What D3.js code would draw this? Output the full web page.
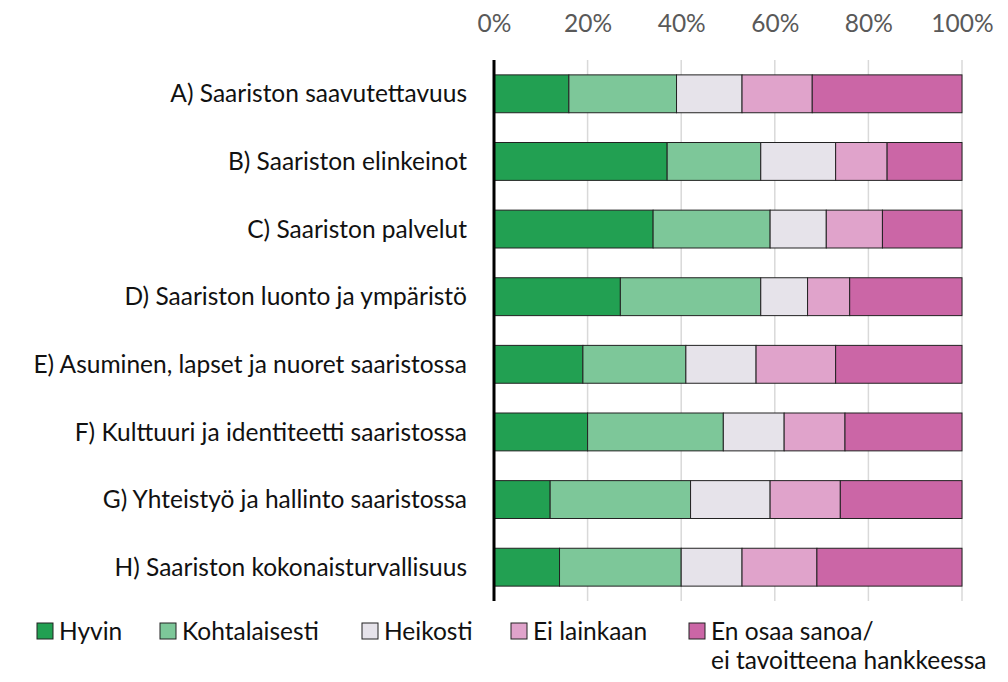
<!DOCTYPE html>
<html>
<head>
<meta charset="utf-8">
<script src="https://cdn.jsdelivr.net/npm/d3@7"></script>
<style>
  body { margin: 0; background: #fff; }
  svg { font-family: Lato, "Open Sans", sans-serif; }
</style>
</head>
<body>
<div id="vis"></div>
<script>
var categories = [
  "A) Saariston saavutettavuus",
  "B) Saariston elinkeinot",
  "C) Saariston palvelut",
  "D) Saariston luonto ja ympäristö",
  "E) Asuminen, lapset ja nuoret saaristossa",
  "F) Kulttuuri ja identiteetti saaristossa",
  "G) Yhteistyö ja hallinto saaristossa",
  "H) Saariston kokonaisturvallisuus"
];
var seriesNames = ["Hyvin", "Kohtalaisesti", "Heikosti", "Ei lainkaan", "En osaa sanoa/ ei tavoitteena hankkeessa"];
var hyvin =         [16, 37, 34, 27, 19, 20, 12, 14];
var kohtalaisesti = [23, 20, 25, 30, 22, 29, 30, 26];
var heikosti =      [14, 16, 12, 10, 15, 13, 17, 13];
var eiLainkaan =    [15, 11, 12,  9, 17, 13, 15, 16];
var enOsaa =        [32, 16, 17, 24, 27, 25, 26, 31];
var tickValues = [0, 20, 40, 60, 80, 100];
var colors = ["#22a052", "#7dc799", "#e6e3ea", "#e0a3cb", "#cb66a6"];

var width = 1008, height = 682;
var margin = {top: 60, left: 494, right: 46, bottom: 81};
var fontSize = 24.5;

var svg = d3.select("#vis").append("svg")
    .attr("width", width)
    .attr("height", height);

var x = d3.scaleLinear().domain([0, 100]).range([margin.left, width - margin.right]);
var y = d3.scaleBand().domain(categories).range([margin.top, height - margin.bottom]).paddingInner(0.44).paddingOuter(0.22);

var table = categories.map(function(c, i) {
  return {cat: c, s0: hyvin[i], s1: kohtalaisesti[i], s2: heikosti[i], s3: eiLainkaan[i], s4: enOsaa[i]};
});
var stack = d3.stack().keys(["s0", "s1", "s2", "s3", "s4"])(table);

// gridlines
svg.append("g").selectAll("line")
  .data(tickValues.slice(1))
  .enter().append("line")
    .attr("x1", function(d) { return x(d); })
    .attr("x2", function(d) { return x(d); })
    .attr("y1", margin.top)
    .attr("y2", height - margin.bottom)
    .attr("stroke", "#d9d9d9")
    .attr("stroke-width", 1.5);

// top axis labels
var xAxis = d3.axisTop(x).tickValues(tickValues).tickFormat(function(d) { return d + "%"; }).tickSize(0).tickPadding(0);
var gx = svg.append("g").attr("transform", "translate(0,32)").call(xAxis);
gx.select(".domain").remove();
gx.selectAll("text")
  .attr("font-family", "Lato, sans-serif")
  .attr("font-size", fontSize)
  .attr("fill", "#595959");

// bars
svg.append("g").selectAll("g")
  .data(stack)
  .enter().append("g")
    .attr("fill", function(d, i) { return colors[i]; })
  .selectAll("rect")
  .data(function(d) { return d; })
  .enter().append("rect")
    .attr("x", function(d) { return x(d[0]); })
    .attr("width", function(d) { return x(d[1]) - x(d[0]); })
    .attr("y", function(d) { return y(d.data.cat); })
    .attr("height", y.bandwidth())
    .attr("stroke", "#222")
    .attr("stroke-width", 1);

// category labels
svg.append("g").selectAll("text")
  .data(categories)
  .enter().append("text")
    .attr("x", 467)
    .attr("y", function(d) { return y(d) + y.bandwidth() / 2; })
    .attr("dy", "0.35em")
    .attr("text-anchor", "end")
    .attr("font-size", fontSize)
    .attr("fill", "#111")
    .text(function(d) { return d; });

// vertical axis line
svg.append("line")
  .attr("x1", x(0)).attr("x2", x(0))
  .attr("y1", margin.top).attr("y2", height - margin.bottom)
  .attr("stroke", "#000")
  .attr("stroke-width", 3);

// legend
var legendX = [37, 160, 362, 511, 689];
var legend = svg.append("g").selectAll("g")
  .data(seriesNames)
  .enter().append("g")
    .attr("transform", function(d, i) { return "translate(" + legendX[i] + ",631)"; });
legend.append("rect")
  .attr("x", 0).attr("y", -8)
  .attr("width", 16).attr("height", 16)
  .attr("fill", function(d, i) { return colors[i]; })
  .attr("stroke", "#222")
  .attr("stroke-width", 1);
legend.append("text")
  .attr("x", 22)
  .attr("y", 0)
  .attr("dy", "0.35em")
  .attr("font-size", fontSize)
  .attr("fill", "#111")
  .each(function(d) {
    var parts = d.split("/ ");
    var t = d3.select(this);
    t.append("tspan").text(parts.length > 1 ? parts[0] + "/" : d);
    if (parts.length > 1) {
      t.append("tspan").attr("x", 22).attr("dy", 29).text(parts[1]);
    }
  });
</script>
</body>
</html>
